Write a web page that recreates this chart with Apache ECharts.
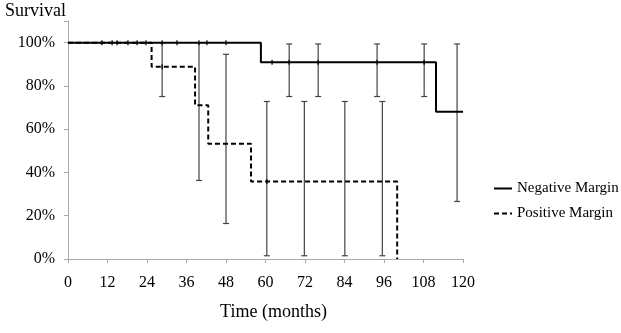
<!DOCTYPE html>
<html>
<head>
<meta charset="utf-8">
<script src="https://cdn.jsdelivr.net/npm/echarts@6/dist/echarts.min.js"></script>
<style>
  html, body { margin: 0; padding: 0; background: #fff; }
  #main { width: 621px; height: 333px; }
</style>
</head>
<body>
<div id="main"></div>
<script>
// Kaplan-Meier steps: [months, survival %]
var negativeSteps = [[0, 100], [58.6, 90.9], [111.8, 68.1], [120, 68.1]];
var positiveSteps = [[0, 100], [25.4, 88.8], [38.6, 71.1], [42.6, 53.3], [55.6, 35.8], [100, 0]];

// censored observations: [months, survival %]
var negativeCensors = [[10.3, 100], [13.4, 100], [14.9, 100], [18.2, 100], [21, 100], [23.7, 100],
    [28.6, 100], [33.1, 100], [39.8, 100], [42.2, 100], [48, 100],
    [62, 90.9], [67.2, 90.9], [76, 90.9], [93.9, 90.9], [108.2, 90.9]];
var positiveCensors = [[28.6, 88.8], [60.4, 35.8]];

// confidence intervals: [months, low %, high %]
var negativeCI = [[67.2, 75.1, 99.4], [76, 75.1, 99.4], [93.9, 75.1, 99.4], [108.2, 75.1, 99.4], [118.2, 26.6, 99.4]];
var positiveCI = [[28.6, 75.1, 100], [39.8, 36.3, 100], [48, 16.4, 94.6],
    [60.4, 1.5, 72.8], [71.8, 1.5, 72.8], [84.1, 1.5, 72.8], [95.5, 1.5, 72.8]];

var xTicks = { min: 0, max: 120, interval: 12 };
var serif = 'Liberation Serif';

var myChart = echarts.init(document.getElementById('main'));

function errorBar(params, api) {
    var x = api.value(0);
    var lo = api.coord([x, api.value(1)]);
    var hi = api.coord([x, api.value(2)]);
    var half = 3;
    var style = { stroke: '#444', lineWidth: 1.2 };
    return {
        type: 'group',
        children: [
            { type: 'line', shape: { x1: lo[0], y1: lo[1], x2: hi[0], y2: hi[1] }, style: style },
            { type: 'line', shape: { x1: lo[0] - half, y1: lo[1], x2: lo[0] + half, y2: lo[1] }, style: style },
            { type: 'line', shape: { x1: hi[0] - half, y1: hi[1], x2: hi[0] + half, y2: hi[1] }, style: style }
        ]
    };
}

var option = {
    animation: false,
    title: {
        text: 'Survival',
        left: 0,
        top: -3,
        textStyle: { fontFamily: serif, fontSize: 18, fontWeight: 'normal', color: '#000' }
    },
    legend: {
        data: ['Negative Margin', 'Positive Margin'],
        orient: 'vertical',
        left: 488,
        top: 176,
        itemWidth: 18,
        itemHeight: 14,
        itemGap: 10,
        itemStyle: { opacity: 0 },
        textStyle: { fontFamily: serif, fontSize: 15, color: '#000' }
    },
    grid: { left: 68, right: 158, top: 21, bottom: 74 },
    xAxis: {
        type: 'value',
        min: xTicks.min,
        max: xTicks.max,
        interval: xTicks.interval,
        name: 'Time (months)',
        nameLocation: 'middle',
        nameGap: 44,
        nameTextStyle: { fontFamily: serif, fontSize: 18, color: '#000', padding: [0, 0, 0, 16] },
        splitLine: { show: false },
        axisLine: { lineStyle: { color: '#aaa', width: 1 } },
        axisTick: { length: 4, lineStyle: { color: '#aaa' } },
        axisLabel: { fontFamily: serif, fontSize: 16, color: '#000', margin: 16 }
    },
    yAxis: {
        type: 'value',
        min: 0,
        max: 110,
        interval: 20,
        splitLine: { show: false },
        axisLine: { show: true, lineStyle: { color: '#aaa', width: 1 } },
        axisTick: { show: true, length: 4, lineStyle: { color: '#aaa' } },
        axisLabel: {
            fontFamily: serif, fontSize: 16, color: '#000', margin: 13,
            formatter: function (v) { return v > 100 ? '' : v + '%'; }
        }
    },
    series: [
        {
            name: 'Negative Margin',
            type: 'line',
            step: 'end',
            symbol: 'none',
            data: negativeSteps,
            lineStyle: { color: '#000', width: 2 },
            itemStyle: { color: '#000' },
            z: 3
        },
        {
            name: 'Positive Margin',
            type: 'line',
            step: 'end',
            symbol: 'none',
            data: positiveSteps,
            lineStyle: { color: '#000', width: 2, type: [5, 3] },
            itemStyle: { color: '#000' },
            z: 3
        },
        {
            name: 'negCI',
            type: 'custom',
            renderItem: errorBar,
            data: negativeCI,
            z: 2
        },
        {
            name: 'posCI',
            type: 'custom',
            renderItem: errorBar,
            data: positiveCI,
            z: 2
        },
        {
            name: 'censored',
            type: 'scatter',
            symbol: 'rect',
            symbolSize: [1.5, 5],
            itemStyle: { color: '#000' },
            data: negativeCensors.concat(positiveCensors),
            z: 4
        }
    ]
};

myChart.setOption(option);
</script>
</body>
</html>
